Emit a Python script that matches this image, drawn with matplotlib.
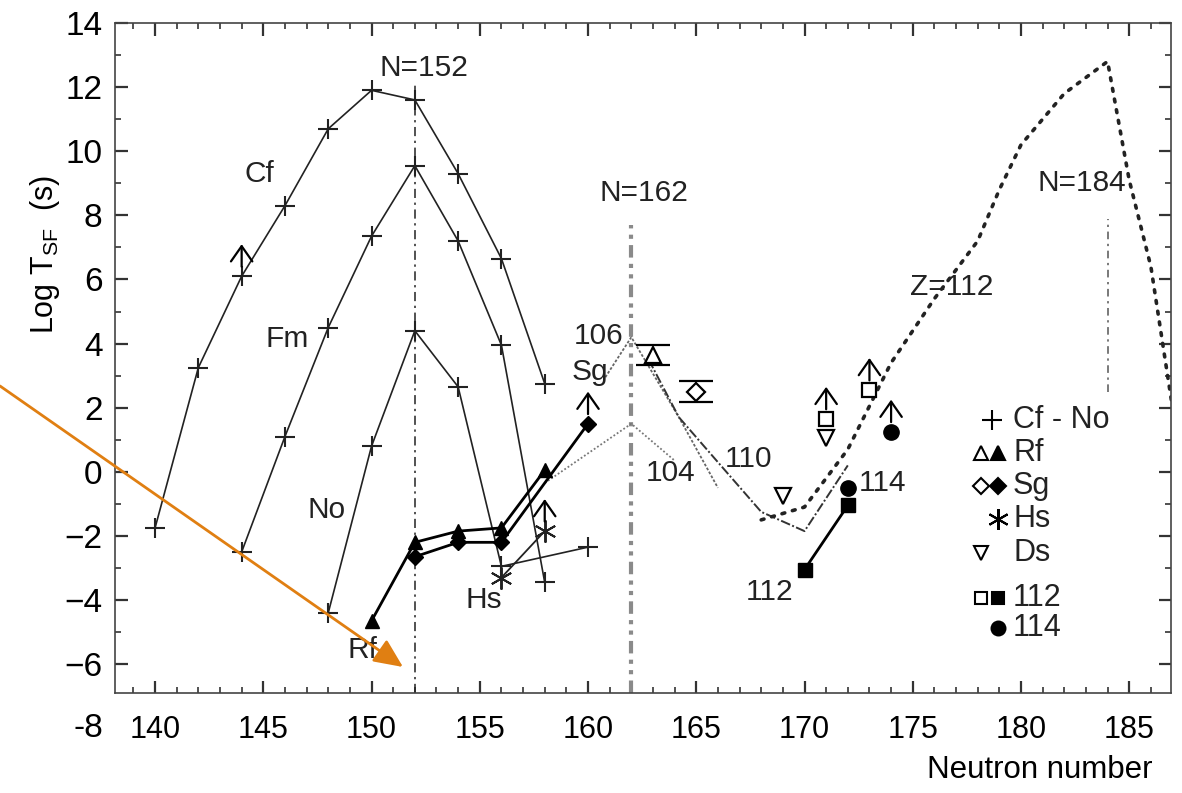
import matplotlib
matplotlib.use('Agg')
import matplotlib.pyplot as plt
from matplotlib.ticker import MultipleLocator
from matplotlib.transforms import blended_transform_factory

plt.rcParams['font.family'] = ['Liberation Sans', 'DejaVu Sans']
plt.rcParams['mathtext.fontset'] = 'custom'
plt.rcParams['mathtext.rm'] = 'Liberation Sans'
plt.rcParams['mathtext.it'] = 'Liberation Sans'

# ---------------- data ----------------
cf_n = [140, 142, 144, 146, 148, 150, 152, 154, 156, 158]
cf_t = [-1.75, 3.25, 6.1, 8.3, 10.7, 11.9, 11.6, 9.3, 6.65, 2.75]
fm_n = [144, 146, 148, 150, 152, 154, 156, 158]
fm_t = [-2.5, 1.1, 4.5, 7.35, 9.55, 7.2, 3.95, -3.45]
no_n = [148, 150, 152, 154, 156, 160]
no_t = [-4.4, 0.8, 4.4, 2.65, -2.95, -2.35]
rf_n = [150, 152, 154, 156, 158]
rf_t = [-4.65, -2.2, -1.85, -1.75, 0.05]
sg_n = [152, 154, 156, 160]
sg_t = [-2.65, -2.2, -2.2, 1.5]
hs_n = [156, 158]
hs_t = [-3.3, -1.85]
rf_open_n = [163]
rf_open_t = [3.65]
rf_open_err = [0.32]
sg_open_n = [165]
sg_open_t = [2.5]
sg_open_err = [0.32]
ds_n = [169, 171]
ds_t = [-0.75, 1.05]
e112_open_n = [171, 173]
e112_open_t = [1.65, 2.55]
e112_n = [170, 172]
e112_t = [-3.05, -1.05]
e114_n = [172, 174]
e114_t = [-0.5, 1.25]
# lower limits (arrows)
lower_n = [144, 160, 158, 171, 173, 174]
lower_t = [6.1, 1.5, -1.85, 1.65, 2.55, 1.25]

# theoretical curves
z104_n = [158, 162, 164]
z104_t = [-0.35, 1.5, 0.35]
z106_n = [160.8, 162, 164.2, 166]
z106_t = [2.95, 4.2, 1.7, -0.5]
z110_n = [162.8, 164.2, 166, 168, 170, 172]
z110_t = [3.5, 1.7, 0.3, -1.25, -1.85, 0.2]
z112_n = [168, 170, 172, 174, 176, 178, 179, 180, 182, 184, 185, 186, 187]
z112_t = [-1.5, -1.1, 0.7, 3.4, 5.4, 7.2, 8.8, 10.2, 11.8, 12.8, 9.1, 6.4, 2.0]

# shell closures
shell_n = [152, 162, 184]
shell_lo = [-6.9, -6.9, 2.5]
shell_hi = [12.1, 7.7, 7.9]
shell_labels = ['N=152', 'N=162', 'N=184']
shell_label_xy = [(152.4, 12.6), (162.6, 8.7), (182.8, 9.0)]

curve_labels = ['Cf', 'Fm', 'No', 'Rf', 'Hs', 'Sg', '106', '104', '110', '112', '114', 'Z=112']
curve_label_xy = [(144.8, 9.3), (146.1, 4.15), (147.9, -1.2), (149.6, -5.55), (155.2, -4.0),
                  (160.1, 3.1), (160.5, 4.25), (163.8, -0.05), (167.4, 0.4), (168.4, -3.75),
                  (173.6, -0.35), (176.8, 5.75)]

legend_labels = ['Cf - No', 'Rf', 'Sg', 'Hs', 'Ds', '112', '114']

# ---------------- figure ----------------
fig = plt.figure(figsize=(11.82, 7.93), dpi=100)
ax = fig.add_axes([0.0973, 0.1261, 0.8934, 0.8449])
ax.set_xlim(138.15, 186.93)
ax.set_ylim(-6.9, 14)

dark = '#222222'
fs = 21.5

# shells
ax.vlines(shell_n[0], shell_lo[0], shell_hi[0], colors=dark, lw=1.1, linestyles=(0, (6, 3, 1.5, 3)))
ax.vlines(shell_n[1], shell_lo[1], shell_hi[1], colors='#8a8a8a', lw=3.0, linestyles=(0, (3, 1.5, 1, 1.5, 1, 1.5)))
ax.vlines(shell_n[2], shell_lo[2], shell_hi[2], colors='#555555', lw=1.1, linestyles=(0, (5, 3, 1.5, 3)))
for lab, (x, y) in zip(shell_labels, shell_label_xy):
    ax.text(x, y, lab, fontsize=fs, ha='center', va='center', color=dark)

# theory curves
ax.plot(z104_n, z104_t, color='#777777', lw=1.3, ls=(0, (1, 1.2)))
ax.plot(z106_n, z106_t, color='#666666', lw=1.3, ls=(0, (1.5, 1)))
ax.plot(z110_n, z110_t, color='#333333', lw=1.4, ls=(0, (5, 1.2, 1, 1.2)))
ax.plot(z112_n, z112_t, color='#222222', lw=2.6, ls=(0, (0.8, 2.2)), dash_capstyle='round')

# experimental chains
pk = dict(marker='+', ms=14, mew=1.5, color=dark, lw=1.2)
ax.plot(cf_n, cf_t, **pk)
ax.plot(fm_n, fm_t, **pk)
ax.plot(no_n, no_t, **pk)
ax.plot(rf_n, rf_t, marker='^', ms=10, color='black', lw=2.0)
ax.plot(sg_n, sg_t, marker='D', ms=8, color='black', lw=2.0)
ax.plot(hs_n, hs_t, marker=(6, 2, 0), ms=16, mew=1.4, color=dark, lw=1.3)
ax.plot(e112_n, e112_t, marker='s', ms=10, color='black', lw=2.0)
ax.plot(e114_n, e114_t, marker='o', ms=11, color='black', lw=0)

ax.errorbar(rf_open_n, rf_open_t, yerr=rf_open_err, fmt='^', ms=11, mfc='white', mec='black',
            mew=1.6, ecolor='black', elinewidth=1.2, capsize=12, capthick=2.2)
ax.errorbar(sg_open_n, sg_open_t, yerr=sg_open_err, fmt='D', ms=9, mfc='white', mec='black',
            mew=1.6, ecolor='black', elinewidth=1.2, capsize=12, capthick=2.2)
ax.plot(ds_n, ds_t, marker='v', ms=11, mfc='white', mec='black', mew=1.6, lw=0)
ax.plot(e112_open_n, e112_open_t, marker='s', ms=10, mfc='white', mec='black', mew=1.6, lw=0)

for x, y in zip(lower_n, lower_t):
    ax.annotate('', xy=(x, y + 1.0), xytext=(x, y + 0.3),
                arrowprops=dict(arrowstyle='->,head_length=0.5,head_width=0.35', color='black',
                                lw=1.6, shrinkA=0, shrinkB=0, mutation_scale=22))

for lab, (x, y) in zip(curve_labels, curve_label_xy):
    ax.text(x, y, lab, fontsize=fs, ha='center', va='center', color=dark)

# legend (manual layout in axes fraction)
rows_px = [420, 453, 486, 519, 553, 598, 628]
def afx(px):
    return (px - 115) / 1056.0
def afy(py):
    return (693 - py) / 670.0
x_open, x_fill, x_text = afx(981), afx(998), afx(1013)
leg_open = [None, ('^', 10), ('D', 8), None, ('v', 10), ('s', 9), None]
leg_fill = [('+', 14), ('^', 10), ('D', 8), ((6, 2, 0), 15), None, ('s', 9), ('o', 10)]
for i, lab in enumerate(legend_labels):
    yy = afy(rows_px[i])
    if leg_open[i] is not None:
        m, s = leg_open[i]
        ax.plot([x_open], [yy], marker=m, ms=s, mfc='white', mec='black', mew=1.5,
                transform=ax.transAxes, clip_on=False, lw=0)
    if leg_fill[i] is not None:
        m, s = leg_fill[i]
        xf = afx(992) if i == 0 else x_fill
        ax.plot([xf], [yy], marker=m, ms=s, color='black', mew=1.5,
                transform=ax.transAxes, clip_on=False, lw=0)
    ax.text(x_text, yy, lab, fontsize=22, ha='left', va='center', color=dark,
            transform=ax.transAxes)

# axes styling
ax.xaxis.set_major_locator(MultipleLocator(5))
ax.xaxis.set_minor_locator(MultipleLocator(1))
ax.yaxis.set_major_locator(MultipleLocator(2))
ax.yaxis.set_minor_locator(MultipleLocator(1))
ax.tick_params(which='both', direction='in', top=True, right=True, color='#333333')
ax.tick_params(which='major', length=9, width=1.6)
ax.tick_params(which='minor', length=4.5, width=1.2)
ax.tick_params(axis='x', which='major', pad=16, labelsize=22)
ax.tick_params(axis='y', which='major', pad=9, labelsize=24)
for sp in ax.spines.values():
    sp.set_color('#444444')
    sp.set_linewidth(1.2)

ax.set_yticks([-6, -4, -2, 0, 2, 4, 6, 8, 10, 12, 14])
trans = blended_transform_factory(ax.transAxes, ax.transData)
ax.text(-0.0115, -8.0, '-8', fontsize=24, ha='right', va='center', transform=trans, clip_on=False)

ax.text(0.876, -0.115, 'Neutron number', fontsize=22.5, ha='center', va='center', transform=ax.transAxes)
ax.text(-0.066, 0.654, 'Log T$_{SF}$  (s)', fontsize=22, rotation=90, ha='center', va='center',
        transform=ax.transAxes)

# orange annotation arrow overlay
fig.add_artist(matplotlib.patches.FancyArrowPatch(
    (0.0, 1 - 386 / 793), (403 / 1182, 1 - 667 / 793), transform=fig.transFigure,
    arrowstyle='-|>,head_length=1.1,head_width=0.5', mutation_scale=16,
    color='#E07F12', lw=2.0, shrinkA=0, shrinkB=0))

fig.savefig('out.png', dpi=100)
